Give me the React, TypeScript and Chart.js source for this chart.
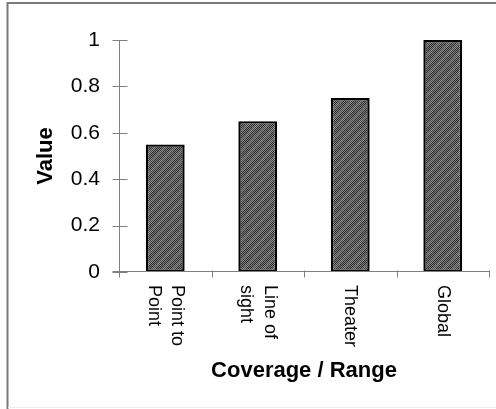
import React, { useEffect, useRef } from "react";
import { Chart, registerables } from "chart.js";

Chart.register(...registerables);

const categories: string[][] = [["Point to", "Point"], ["Line of", "sight"], ["Theater"], ["Global"]];
const values: number[] = [0.55, 0.65, 0.75, 1.0];
const yTicks: number[] = [0, 0.2, 0.4, 0.6, 0.8, 1];
const xTitle = "Coverage / Range";
const yTitle = "Value";

const FONT = "'Liberation Sans', Arial, Helvetica, sans-serif";

function makePattern(): CanvasPattern | string {
  const c = document.createElement("canvas");
  const n = 10;
  c.width = n;
  c.height = n;
  const ctx = c.getContext("2d");
  if (!ctx) return "#5a5a5a";
  const img = ctx.createImageData(n, n);
  for (let y = 0; y < n; y++) {
    for (let x = 0; x < n; x++) {
      const dark = (x + y) % 2 === 0;
      const d = (x + y) % n;
      const stripe = d < 4;
      let v: number;
      if (stripe) v = dark ? 0x4a : 0x8a;
      else v = dark ? 0x2a : 0x80;
      const i = (y * n + x) * 4;
      img.data[i] = v;
      img.data[i + 1] = v;
      img.data[i + 2] = v;
      img.data[i + 3] = 255;
    }
  }
  ctx.putImageData(img, 0, 0);
  const p = ctx.createPattern(c, "repeat");
  return p || "#5a5a5a";
}

const decorPlugin = {
  id: "decor",
  afterDraw(chart: any) {
    const ctx: CanvasRenderingContext2D = chart.ctx;
    const area = chart.chartArea;
    const xs = chart.scales.x;
    const ys = chart.scales.y;
    ctx.save();
    // outer frame
    ctx.strokeStyle = "#7a7a7a";
    ctx.lineWidth = 2;
    ctx.beginPath();
    ctx.moveTo(7.5, 409);
    ctx.lineTo(7.5, 3);
    ctx.lineTo(496, 3);
    ctx.stroke();
    ctx.strokeStyle = "#eeeeee";
    ctx.lineWidth = 1;
    ctx.beginPath();
    ctx.moveTo(8, 407.5);
    ctx.lineTo(496, 407.5);
    ctx.stroke();

    // axes
    ctx.strokeStyle = "#808080";
    ctx.lineWidth = 1;
    const ax = Math.round(area.left) + 0.5;
    const ay = Math.round(area.bottom) - 0.5;
    ctx.beginPath();
    ctx.moveTo(ax, Math.round(area.top));
    ctx.lineTo(ax, ay);
    ctx.moveTo(ax - 7, ay);
    ctx.lineTo(Math.round(area.right), ay);
    for (const v of yTicks) {
      const py = Math.round(ys.getPixelForValue(v)) + 0.5;
      ctx.moveTo(ax - 7, py);
      ctx.lineTo(ax + 8, py);
    }
    for (let i = 0; i <= categories.length; i++) {
      const px = Math.round(xs.getPixelForValue(i - 0.5)) + 0.5;
      ctx.moveTo(px, ay - 1);
      ctx.lineTo(px, ay + 6);
    }
    ctx.stroke();

    // x category labels, rotated clockwise
    ctx.fillStyle = "#000";
    ctx.font = `18px ${FONT}`;
    ctx.textAlign = "left";
    ctx.textBaseline = "middle";
    const gap = 23.5;
    categories.forEach((lines, i) => {
      const cx = xs.getPixelForValue(i);
      const nl = lines.length;
      lines.forEach((line, j) => {
        const colX = cx + ((nl - 1) / 2 - j) * gap;
        ctx.save();
        ctx.translate(colX, 285);
        ctx.rotate(Math.PI / 2);
        ctx.fillText(line, 0, 0);
        ctx.restore();
      });
    });

    // titles
    ctx.font = `bold 22px ${FONT}`;
    ctx.textAlign = "center";
    ctx.textBaseline = "alphabetic";
    ctx.fillText(xTitle, (area.left + area.right) / 2, 377);
    ctx.save();
    ctx.translate(52, (area.top + area.bottom) / 2);
    ctx.rotate(-Math.PI / 2);
    ctx.fillText(yTitle, 0, 0);
    ctx.restore();
    ctx.restore();
  },
};

export default function App() {
  const ref = useRef<HTMLCanvasElement | null>(null);
  useEffect(() => {
    if (!ref.current) return;
    const pattern = makePattern();
    const chart = new Chart(ref.current, {
      type: "bar",
      data: {
        labels: categories.map((c) => c.join(" ")),
        datasets: [
          {
            data: values,
            backgroundColor: pattern as any,
            borderColor: "#000000",
            borderWidth: 2.4,
            borderSkipped: false,
            barPercentage: 0.42,
            categoryPercentage: 1,
          },
        ],
      },
      options: {
        responsive: false,
        animation: false,
        events: [],
        layout: { padding: { left: 8, top: 40, right: 7, bottom: 0 } },
        plugins: { legend: { display: false }, tooltip: { enabled: false }, title: { display: false } },
        scales: {
          x: {
            type: "category",
            ticks: { display: false },
            grid: { display: false, drawTicks: false },
            border: { display: false },
            afterFit: (s: any) => {
              s.height = 137;
            },
          },
          y: {
            type: "linear",
            min: 0,
            max: 1,
            afterBuildTicks: (s: any) => {
              s.ticks = yTicks.map((v) => ({ value: v }));
            },
            ticks: {
              color: "#000",
              font: { family: FONT, size: 21 },
              padding: 19,
              callback: (v: any) => String(Math.round(Number(v) * 10) / 10),
            },
            grid: { display: false, drawTicks: false },
            border: { display: false },
            afterFit: (s: any) => {
              s.width = 111;
            },
          },
        },
      },
      plugins: [decorPlugin],
    });
    return () => chart.destroy();
  }, []);
  return (
    <div style={{ position: "absolute", left: 0, top: 0, width: 496, height: 409, background: "#fff" }}>
      <canvas ref={ref} width={496} height={409} style={{ display: "block" }} />
    </div>
  );
}
